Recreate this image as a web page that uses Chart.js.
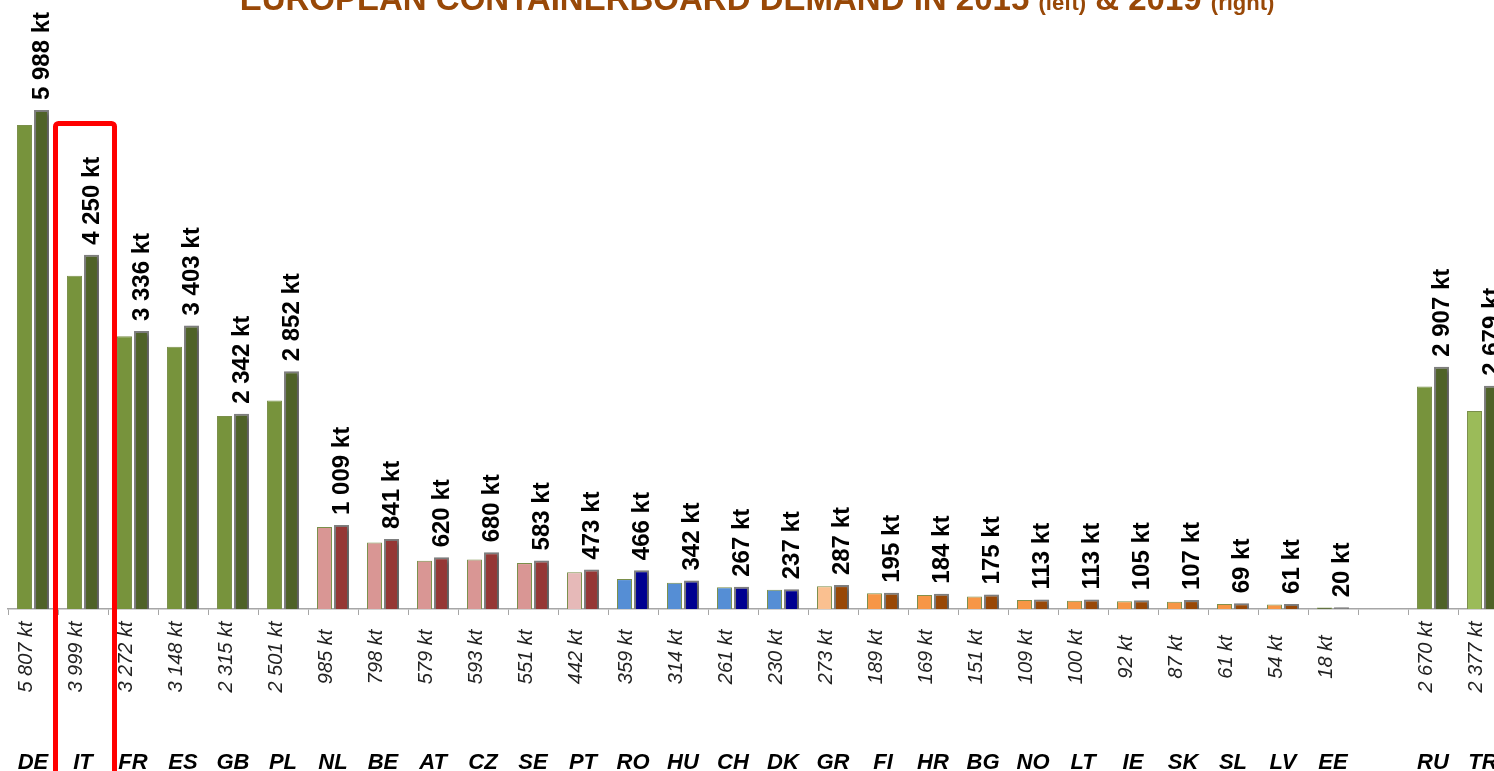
<!DOCTYPE html>
<html>
<head>
<meta charset="utf-8">
<script src="https://cdn.jsdelivr.net/npm/chart.js@4.4.1/dist/chart.umd.min.js"></script>
<style>
html,body{margin:0;padding:0;overflow:hidden;background:#fff;}
#wrap{position:absolute;left:0;top:0;width:1520px;height:771px;}
</style>
</head>
<body>
<div id="wrap"><canvas id="c" width="1520" height="771"></canvas></div>
<script>
const countries = ['DE','IT','FR','ES','GB','PL','NL','BE','AT','CZ','SE','PT','RO','HU','CH','DK','GR','FI','HR','BG','NO','LT','IE','SK','SL','LV','EE','','RU','TR'];
const demand2015 = [5807,3999,3272,3148,2315,2501,985,798,579,593,551,442,359,314,261,230,273,189,169,151,109,100,92,87,61,54,18,null,2670,2377];
const demand2019 = [5988,4250,3336,3403,2342,2852,1009,841,620,680,583,473,466,342,267,237,287,195,184,175,113,113,105,107,69,61,20,null,2907,2679];
const titleMain1 = 'EUROPEAN CONTAINERBOARD DEMAND IN 2015 ';
const titleSmall1 = '(left)';
const titleMain2 = ' & 2019 ';
const titleSmall2 = '(right)';
const highlighted = 'IT';

const colors2015 = ['#77933C','#77933C','#77933C','#77933C','#77933C','#77933C',
  '#D99694','#D99694','#D99694','#D99694','#D99694','#E6B9B8',
  '#558ED5','#558ED5','#558ED5','#558ED5',
  '#FAC090','#F79646','#F79646','#F79646','#F79646','#F79646','#F79646','#F79646','#F79646','#F79646',
  '#4F6228','#FFFFFF','#77933C','#9BBB59'];
const colors2019 = ['#4F6228','#4F6228','#4F6228','#4F6228','#4F6228','#4F6228',
  '#953735','#953735','#953735','#953735','#953735','#953735',
  '#000090','#000090','#000090','#000090',
  '#984807','#984807','#984807','#984807','#984807','#984807','#984807','#984807','#984807','#984807',
  '#7F7F7F','#FFFFFF','#4F6228','#4F6228'];

const FONT = "'Liberation Sans', Arial, sans-serif";
function fmt(v){ return String(v).replace(/\B(?=(\d{3})+(?!\d))/g,' ') + ' kt'; }

const shadowPlugin = {
  id:'shadow',
  beforeDatasetDraw(chart,args){
    const ctx = chart.ctx; ctx.save();
    if(args.index===1){
      ctx.shadowColor='rgba(0,0,0,0.35)'; ctx.shadowBlur=4; ctx.shadowOffsetX=2; ctx.shadowOffsetY=2;
    }
  },
  afterDatasetDraw(chart){ chart.ctx.restore(); }
};

const labelsPlugin = {
  id:'labels',
  afterDraw(chart){
    const ctx = chart.ctx;
    const xs = chart.scales.x, ys = chart.scales.y;
    const m1 = chart.getDatasetMeta(1);
    const m0 = chart.getDatasetMeta(0);
    ctx.save();
    // 2019 labels above bars
    ctx.fillStyle='#000';
    ctx.font = "bold 24px " + FONT;
    ctx.textBaseline='middle';
    demand2019.forEach((v,i)=>{
      if(v==null) return;
      const bar = m1.data[i];
      ctx.save();
      ctx.translate(bar.x+1, bar.y-10);
      ctx.rotate(-Math.PI/2);
      ctx.textAlign='left';
      ctx.fillText(fmt(v),0,0);
      ctx.restore();
    });
    // 2015 labels below axis
    ctx.font = "italic 20px " + FONT;
    ctx.fillStyle='#222';
    demand2015.forEach((v,i)=>{
      if(v==null) return;
      const bar = m0.data[i];
      ctx.save();
      ctx.translate(bar.x+2, 657);
      ctx.rotate(-Math.PI/2);
      ctx.textAlign='center';
      ctx.fillText(fmt(v),0,0);
      ctx.restore();
    });
    // country labels
    ctx.font = "italic bold 22px " + FONT;
    ctx.fillStyle='#000';
    ctx.textAlign='center';
    ctx.textBaseline='alphabetic';
    countries.forEach((c,i)=>{
      if(!c) return;
      ctx.fillText(c, xs.getPixelForValue(i), 769);
    });
    // title
    const big = "bold 33px " + FONT, small = "bold 22px " + FONT;
    const parts = [[titleMain1,big],[titleSmall1,small],[titleMain2,big],[titleSmall2,small]];
    let w = 0;
    parts.forEach(p=>{ ctx.font=p[1]; w+=ctx.measureText(p[0]).width; });
    let x = 757 - w/2;
    ctx.fillStyle='#984807';
    ctx.textAlign='left';
    parts.forEach(p=>{ ctx.font=p[1]; ctx.fillText(p[0],x,10); x+=ctx.measureText(p[0]).width; });
    // highlight rectangle
    const hi = countries.indexOf(highlighted);
    const cx = xs.getPixelForValue(hi);
    ctx.strokeStyle='#FF0000';
    ctx.lineWidth=5;
    ctx.lineJoin='round';
    ctx.beginPath();
    if(ctx.roundRect){ ctx.roundRect(cx-27.5, 123.5, 59, 700, 3); } else { ctx.rect(cx-27.5,123.5,59,700); }
    ctx.stroke();
    ctx.restore();
  }
};

new Chart(document.getElementById('c'), {
  type:'bar',
  data:{
    labels: countries,
    datasets:[
      {label:'2015', data: demand2015, backgroundColor: colors2015, borderColor:'#7A8F4A', borderWidth:1,
        categoryPercentage:0.68, barPercentage:0.88},
      {label:'2019', data: demand2019, backgroundColor: colors2019, borderColor:'#808080', borderWidth:2,
        categoryPercentage:0.68, barPercentage:0.88}
    ]
  },
  options:{
    responsive:false,
    animation:false,
    layout:{padding:{left:8,right:12,top:0,bottom:0}},
    plugins:{legend:{display:false},tooltip:{enabled:false},title:{display:false}},
    scales:{
      x:{
        grid:{display:true,drawOnChartArea:false,drawTicks:true,tickLength:6,color:'#A6A6A6',offset:true},
        border:{display:true,color:'#A6A6A6',width:1.5},
        ticks:{display:false},
        afterFit(s){ s.height = 162; }
      },
      y:{display:false,min:0,max:7308}
    }
  },
  plugins:[shadowPlugin,labelsPlugin]
});
</script>
</body>
</html>
